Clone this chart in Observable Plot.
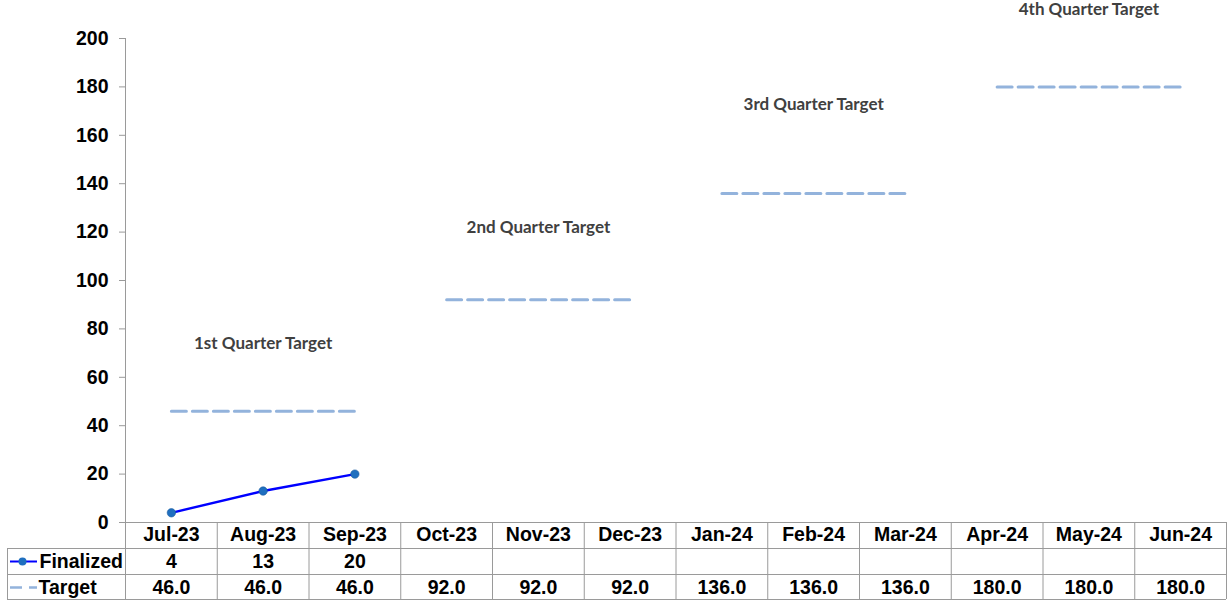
<!DOCTYPE html>
<html><head><meta charset="utf-8">
<script src="https://cdn.jsdelivr.net/npm/d3@7"></script>
<script src="https://cdn.jsdelivr.net/npm/@observablehq/plot@0.6"></script>
<style>html,body{margin:0;padding:0;background:#fff;overflow:hidden}</style>
</head><body><div id="chart"></div>
<script>
// ---- data ----
const months = ["Jul-23","Aug-23","Sep-23","Oct-23","Nov-23","Dec-23","Jan-24","Feb-24","Mar-24","Apr-24","May-24","Jun-24"];
const finalized = [4, 13, 20];
const targets = [46, 46, 46, 92, 92, 92, 136, 136, 136, 180, 180, 180];
const quarterOfMonth = [0, 0, 0, 1, 1, 1, 2, 2, 2, 3, 3, 3];
const quarterLabels = ["1st Quarter Target", "2nd Quarter Target", "3rd Quarter Target", "4th Quarter Target"];
const yTicks = [0, 20, 40, 60, 80, 100, 120, 140, 160, 180, 200];
const seriesNames = ["Finalized", "Target"];

const rows = months.map((m, i) => ({month: m, target: targets[i], finalized: finalized[i], quarter: quarterOfMonth[i]}));

// ---- layout / style ----
const W = 1227, H = 601, mL = 125, mR = 1, mT = 38, mB = 79;
const bw = (W - mL - mR) / months.length;
const frameH = H - mT - mB;
const font = "'Liberation Sans', Arial, sans-serif";
const gridC = "#9a9a9a";
const rowDy = [13, 39, 65];
const rowLineDy = [26, 52, 77];
const labelDy = [-68, -72, -89, -77];
const targetColor = "#93b3dc";
const lineColor = "#0000ff";
const dotColor = "#1f6fbf";

const marks = [];
// y tick marks
marks.push(Plot.ruleY(yTicks, {stroke: gridC, insetLeft: -6, insetRight: W - mL - mR}));
// left axis line (continues through table)
marks.push(Plot.ruleX([months[0]], {x: d => d, dx: -bw / 2, stroke: gridC, insetBottom: -(mB - 2)}));
// column separators in table
marks.push(Plot.ruleX(months, {x: d => d, dx: bw / 2, stroke: gridC, insetTop: frameH, insetBottom: -(mB - 2)}));
// x axis line
marks.push(Plot.ruleY([0], {stroke: gridC, insetLeft: -6}));
// table horizontal lines
rowLineDy.forEach(dy => marks.push(Plot.ruleY([0], {stroke: gridC, dy, insetLeft: -(mL - 7)})));

// target lines per quarter
marks.push(Plot.lineY(rows, {x: "month", y: "target", z: "quarter", stroke: targetColor, strokeWidth: 3, strokeDasharray: "15,6"}));
// quarter labels
quarterLabels.forEach((lab, q) => {
  const mid = rows.filter(r => r.quarter === q)[1];
  marks.push(Plot.text([mid], {x: "month", y: "target", text: () => lab, dy: labelDy[q],
    fontFamily: "Lato, 'Open Sans', sans-serif", fontSize: 17, fontWeight: "bold", fill: "#404040"}));
});
// finalized series
const fin = rows.filter(r => r.finalized != null);
marks.push(Plot.line(fin, {x: "month", y: "finalized", stroke: lineColor, strokeWidth: 2.4}));
marks.push(Plot.dot(fin, {x: "month", y: "finalized", r: 4.2, fill: dotColor, stroke: "#1a5aa0", strokeWidth: 0.6}));

// data table values
marks.push(Plot.text(rows, {x: "month", text: d => d.finalized != null ? String(d.finalized) : "", frameAnchor: "bottom", lineAnchor: "middle", dy: rowDy[1]}));
marks.push(Plot.text(rows, {x: "month", text: d => d.target.toFixed(1), frameAnchor: "bottom", lineAnchor: "middle", dy: rowDy[2]}));

// legend cells
marks.push(Plot.ruleY([0], {dy: rowDy[1], insetLeft: -(mL - 10), insetRight: W - mR - 37, stroke: lineColor, strokeWidth: 2}));
marks.push(Plot.dot([0], {frameAnchor: "bottom-left", dx: 22 - mL, dy: rowDy[1], r: 4, fill: dotColor}));
marks.push(Plot.ruleY([0], {dy: rowDy[2], insetLeft: -(mL - 10), insetRight: W - mR - 37, stroke: targetColor, strokeWidth: 2.5, strokeDasharray: "12,7"}));
marks.push(Plot.text([seriesNames[0]], {text: d => d, frameAnchor: "bottom-left", lineAnchor: "middle", textAnchor: "start", dx: 39 - mL, dy: rowDy[1]}));
marks.push(Plot.text([seriesNames[1]], {text: d => d, frameAnchor: "bottom-left", lineAnchor: "middle", textAnchor: "start", dx: 38 - mL, dy: rowDy[2]}));
// left outer border of legend column
marks.push(Plot.ruleX([months[0]], {x: d => d, dx: -bw / 2 - (mL - 7), stroke: gridC, insetTop: frameH + rowLineDy[0], insetBottom: -(mB - 2)}));

const chart = Plot.plot({
  width: W, height: H,
  marginLeft: mL, marginRight: mR, marginTop: mT, marginBottom: mB,
  style: {fontFamily: font, fontSize: "19.5px", fontWeight: "bold", color: "black", background: "white", overflow: "visible"},
  x: {type: "band", domain: months, padding: 0, round: false, tickSize: 0, tickPadding: 5, label: null},
  y: {domain: [0, 200], ticks: yTicks, tickSize: 0, tickPadding: 17, label: null},
  marks
});
document.getElementById("chart").appendChild(chart);
</script>
</body></html>
